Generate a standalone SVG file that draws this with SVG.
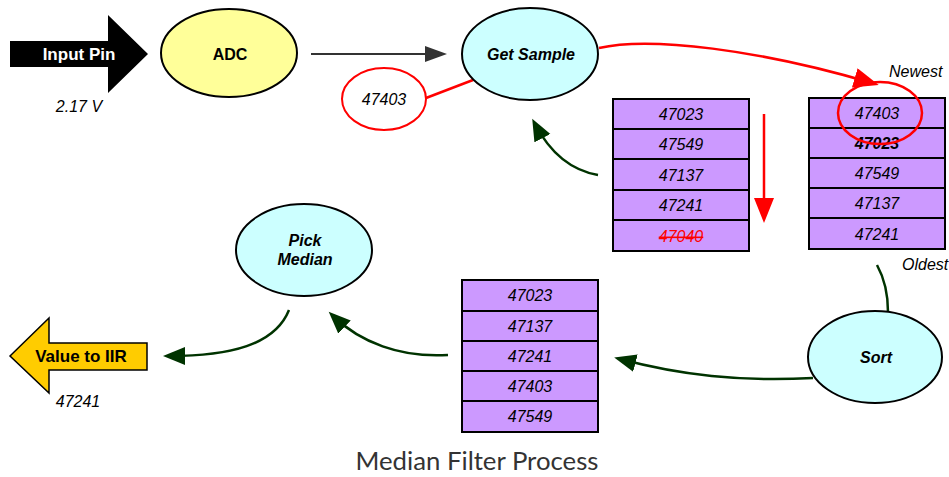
<svg xmlns="http://www.w3.org/2000/svg" width="949" height="477" viewBox="0 0 949 477">
<style>
text{font-family:"Liberation Sans",Arial,sans-serif;font-size:16px;fill:#000}
.c{text-anchor:middle}
.b{font-weight:bold}
.i{font-style:italic}
.node{stroke:#000;stroke-width:2}
.cyan{fill:#ccffff}
.cell{fill:#cc99ff;stroke:#000;stroke-width:2}
.g{fill:none;stroke:#003300;stroke-width:2.5}
.r{fill:none;stroke:#ff0000;stroke-width:2.5}
</style>
<defs>
<marker id="ag" markerUnits="userSpaceOnUse" markerWidth="24" markerHeight="20" refX="16" refY="9" orient="auto"><path d="M0,0 L22,9 L0,18 Z" fill="#003300"/></marker>
<marker id="ar" markerUnits="userSpaceOnUse" markerWidth="26" markerHeight="22" refX="18" refY="10" orient="auto"><path d="M0,0 L25,10 L0,20 Z" fill="#ff0000"/></marker>
<marker id="ak" markerUnits="userSpaceOnUse" markerWidth="24" markerHeight="18" refX="16" refY="8" orient="auto"><path d="M0,0 L22,8 L0,16 Z" fill="#333"/></marker>
</defs>
<rect width="949" height="477" fill="#fff"/>

<g id="connectors">
<path d="M311,54 L441,54" fill="none" stroke="#333" stroke-width="2" marker-end="url(#ak)"/>
<path d="M426,98 L473,80" class="r"/>
<path d="M599,48 C650,36 760,50 872,83" class="r" marker-end="url(#ar)"/>
<path d="M764,114 L764,216" class="r" marker-end="url(#ar)"/>
<path d="M598,175 Q558,168 535,124" class="g" marker-end="url(#ag)"/>
<path d="M877,265 Q888,285 888,312" class="g"/>
<path d="M813,378 C740,382 680,375 620,359" class="g" marker-end="url(#ag)"/>
<path d="M448,355 C400,358 360,342 333,316" class="g" marker-end="url(#ag)"/>
<path d="M289,310 C275,345 230,356 169,356" class="g" marker-end="url(#ag)"/>
</g>

<g id="input-pin">
<path d="M10,41 L108,41 L108,15 L148,54 L108,93 L108,67 L10,67 Z" fill="#000"/>
<text x="79" y="60" class="c b" style="fill:#fff;font-size:17px">Input Pin</text>
<text x="79" y="112" class="c i">2.17 V</text>
</g>

<g id="adc">
<ellipse cx="229" cy="53" rx="68" ry="44" fill="#ffff99" class="node"/>
<text x="230" y="60" class="c b">ADC</text>
</g>

<g id="get-sample">
<ellipse cx="530" cy="54" rx="68" ry="46" class="node cyan"/>
<text x="531" y="60" class="c b i">Get Sample</text>
</g>

<g id="sample-value">
<ellipse cx="384" cy="99" rx="42" ry="31" fill="#fff" stroke="#ff0000" stroke-width="2"/>
<text x="384" y="105" class="c i">47403</text>
</g>

<g id="buffer-old">
<rect x="613" y="99" width="136" height="30" class="cell"/>
<rect x="613" y="129" width="136" height="30" class="cell"/>
<rect x="613" y="159" width="136" height="31" class="cell"/>
<rect x="613" y="190" width="136" height="30" class="cell"/>
<rect x="613" y="220" width="136" height="31" class="cell"/>
<text x="681" y="120" class="c i">47023</text>
<text x="681" y="150" class="c i">47549</text>
<text x="681" y="181" class="c i">47137</text>
<text x="681" y="211" class="c i">47241</text>
<text x="681" y="242" class="c i" style="fill:#ff0000;text-decoration:line-through">47040</text>
</g>

<g id="buffer-new">
<rect x="809" y="98" width="136" height="30" class="cell"/>
<rect x="809" y="128" width="136" height="30" class="cell"/>
<rect x="809" y="158" width="136" height="30" class="cell"/>
<rect x="809" y="188" width="136" height="30" class="cell"/>
<rect x="809" y="218" width="136" height="31" class="cell"/>
<text x="877" y="119" class="c i">47403</text>
<text x="877" y="149" class="c b i">47023</text>
<text x="877" y="179" class="c i">47549</text>
<text x="877" y="209" class="c i">47137</text>
<text x="877" y="240" class="c i">47241</text>
<ellipse cx="880" cy="113" rx="42" ry="31" fill="none" stroke="#ff0000" stroke-width="2.5"/>
<text x="889" y="77" class="i">Newest</text>
<text x="902" y="270" class="i">Oldest</text>
</g>

<g id="sort">
<ellipse cx="875" cy="357" rx="67" ry="46" class="node cyan"/>
<text x="876" y="363" class="c b i">Sort</text>
</g>

<g id="buffer-sorted">
<rect x="462" y="280" width="136" height="31" class="cell"/>
<rect x="462" y="311" width="136" height="30" class="cell"/>
<rect x="462" y="341" width="136" height="30" class="cell"/>
<rect x="462" y="371" width="136" height="30" class="cell"/>
<rect x="462" y="401" width="136" height="31" class="cell"/>
<text x="530" y="301" class="c i">47023</text>
<text x="530" y="332" class="c i">47137</text>
<text x="530" y="362" class="c i">47241</text>
<text x="530" y="392" class="c i">47403</text>
<text x="530" y="422" class="c i">47549</text>
</g>

<g id="pick-median">
<ellipse cx="304" cy="250" rx="68" ry="46" class="node cyan"/>
<text x="305" y="246" class="c b i">Pick</text>
<text x="305" y="265" class="c b i">Median</text>
</g>

<g id="value-to-iir">
<path d="M10,356 L49,318 L49,343 L147,343 L147,370 L49,370 L49,393 Z" fill="#ffcc00" stroke="#000" stroke-width="1.5"/>
<text x="81" y="362" class="c b" style="font-size:17px">Value to IIR</text>
<text x="78" y="407" class="c i">47241</text>
</g>

<text x="477" y="470" class="c" textLength="243" lengthAdjust="spacingAndGlyphs" style="font-family:'Lato','Open Sans',sans-serif;font-size:25px;fill:#333">Median Filter Process</text>
</svg>
